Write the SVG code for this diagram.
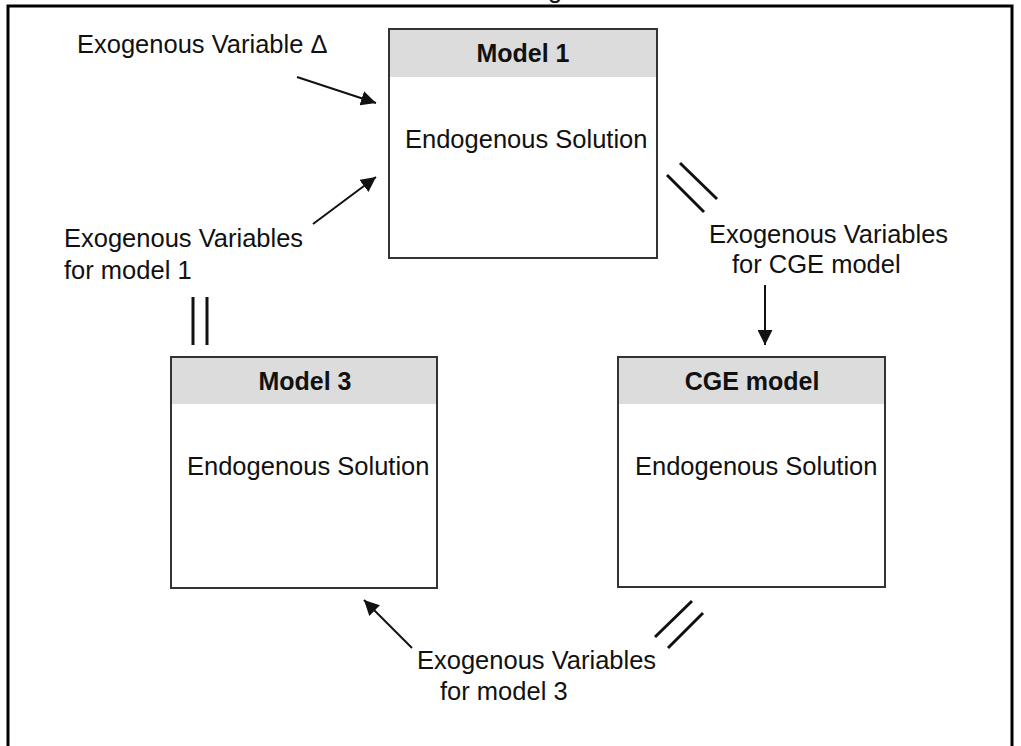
<svg xmlns="http://www.w3.org/2000/svg" width="1021" height="746" viewBox="0 0 1021 746">
<style>
.box{fill:#ffffff;stroke:#333333;stroke-width:2}
.hdr{fill:#dcdcdc}
.t{font-family:"Liberation Sans",Arial,sans-serif;font-size:25.5px;fill:#111111}
.tb{font-family:"Liberation Sans",Arial,sans-serif;font-size:25px;font-weight:bold;fill:#111111;text-anchor:middle}
.ln{stroke:#111111;stroke-width:2;fill:none}
.eq{stroke:#111111;stroke-width:3;fill:none}
</style>
<defs>
<marker id="ah" viewBox="0 0 10 10" refX="10" refY="5" markerWidth="7.5" markerHeight="7.5" orient="auto" markerUnits="strokeWidth">
<path d="M0,0 L10,5 L0,10 z" fill="#111111"/>
</marker>
</defs>
<rect width="1021" height="746" fill="#ffffff"/>
<g id="frame">
<path d="M8,746 L8,6 L1012,6 L1012,746" fill="none" stroke="#000000" stroke-width="3"/>
<text x="548" y="-2" class="t" font-size="22">g</text>
</g>
<g id="model1">
<rect class="box" x="389" y="29" width="268" height="229"/>
<rect class="hdr" x="390" y="30" width="266" height="47"/>
<text class="tb" x="523" y="62">Model 1</text>
<text class="t" x="405" y="148">Endogenous Solution</text>
</g>
<g id="model3">
<rect class="box" x="171" y="357" width="266" height="231"/>
<rect class="hdr" x="172" y="358" width="264" height="46"/>
<text class="tb" x="305" y="390">Model 3</text>
<text class="t" x="187" y="475">Endogenous Solution</text>
</g>
<g id="cge">
<rect class="box" x="618" y="357" width="267" height="230"/>
<rect class="hdr" x="619" y="358" width="265" height="46"/>
<text class="tb" x="752" y="390">CGE model</text>
<text class="t" x="635" y="475">Endogenous Solution</text>
</g>
<g id="labels">
<text class="t" x="77" y="53">Exogenous Variable Δ</text>
<text class="t" x="64" y="247">Exogenous Variables</text>
<text class="t" x="64" y="279">for model 1</text>
<text class="t" x="709" y="243">Exogenous Variables</text>
<text class="t" x="732" y="273">for CGE model</text>
<text class="t" x="417" y="669">Exogenous Variables</text>
<text class="t" x="440" y="700">for model 3</text>
</g>
<g id="connectors">
<line class="ln" x1="297" y1="77" x2="376" y2="103" marker-end="url(#ah)"/>
<line class="ln" x1="313" y1="224" x2="376" y2="177" marker-end="url(#ah)"/>
<line class="ln" x1="765" y1="285" x2="765" y2="345" marker-end="url(#ah)"/>
<line class="ln" x1="412" y1="648" x2="364" y2="600" marker-end="url(#ah)"/>
<line class="eq" x1="680" y1="163" x2="717" y2="199"/>
<line class="eq" x1="667" y1="175" x2="704" y2="212"/>
<line class="eq" x1="193" y1="297" x2="193" y2="345"/>
<line class="eq" x1="207" y1="297" x2="207" y2="345"/>
<line class="eq" x1="655" y1="637" x2="692" y2="601"/>
<line class="eq" x1="668" y1="648" x2="703" y2="613"/>
</g>
</svg>
